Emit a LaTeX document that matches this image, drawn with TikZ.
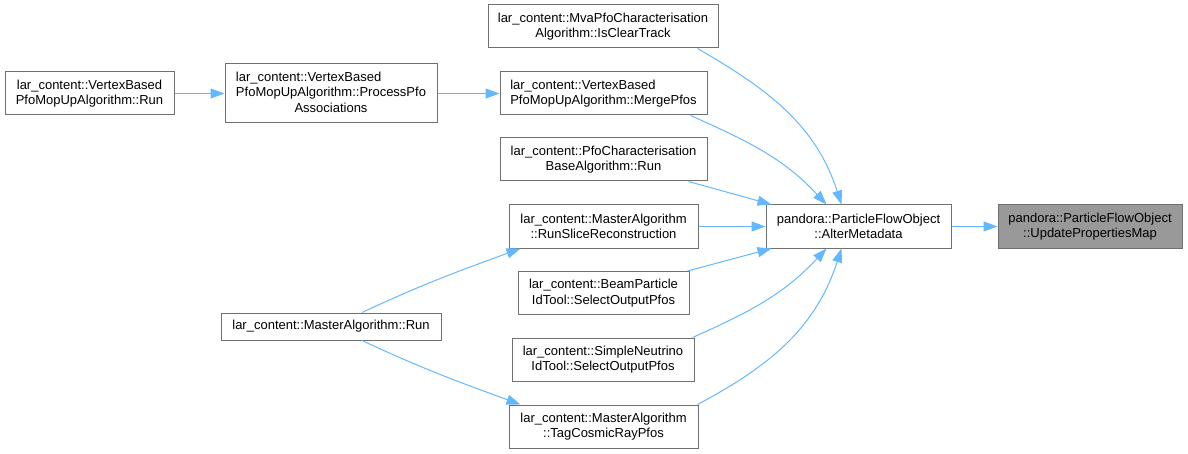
\documentclass[tikz,border=0pt]{standalone}
\usepackage{fontspec}
\setmainfont{Liberation Sans}
\usetikzlibrary{arrows.meta,positioning}
\definecolor{edgeblue}{HTML}{63B8FF}
\definecolor{boxgray}{HTML}{707070}
\definecolor{hlgray}{HTML}{999999}
\tikzset{
  fn/.style={draw=boxgray,line width=1pt,fill=white,align=center,font=\fontsize{13}{15.5}\selectfont,inner sep=0pt,minimum height=43pt},
  hl/.style={fn,fill=hlgray},
  arr/.style={-{Triangle[length=14pt,width=10pt]},draw=edgeblue,line width=1pt},
}

\begin{document}
\begin{tikzpicture}[x=1pt,y=1pt]
  \useasboundingbox (0,0) rectangle (1188,453);
  \node[hl,minimum width=184pt] (upd) at (1090,226.5) {pandora::ParticleFlowObject\\::UpdatePropertiesMap};
  \node[fn,minimum width=185pt] (alter) at (858.5,226.5) {pandora::ParticleFlowObject\\::AlterMetadata};
  % callers of AlterMetadata
  \node[fn,minimum width=230pt] (clear) at (603,426.5) {lar\_content::MvaPfoCharacterisation\\Algorithm::IsClearTrack};
  \node[fn,minimum width=207pt,align=left] (merge) at (603.5,359.5) {lar\_content::VertexBased\\PfoMopUpAlgorithm::MergePfos};
  \node[fn,minimum width=207pt] (pcrun) at (603.5,293.5) {lar\_content::PfoCharacterisation\\BaseAlgorithm::Run};
  \node[fn,minimum width=189pt] (slice) at (603.5,226.5) {lar\_content::MasterAlgorithm\\::RunSliceReconstruction};
  \node[fn,minimum width=171pt] (beam) at (603.5,160) {lar\_content::BeamParticle\\IdTool::SelectOutputPfos};
  \node[fn,minimum width=182pt] (simple) at (603,93.5) {lar\_content::SimpleNeutrino\\IdTool::SelectOutputPfos};
  \node[fn,minimum width=189pt] (tag) at (603.5,26.5) {lar\_content::MasterAlgorithm\\::TagCosmicRayPfos};
  % further up the call chain
  \node[fn,minimum width=212pt,minimum height=59pt] (assoc) at (331,359.5) {\begin{tabular}{@{}l@{}}lar\_content::VertexBased\\PfoMopUpAlgorithm::ProcessPfo\\\multicolumn{1}{@{}c@{}}{Associations}\end{tabular}};
  \node[fn,minimum width=169pt] (vbrun) at (89.5,359.5) {lar\_content::VertexBased\\PfoMopUpAlgorithm::Run};
  \node[fn,minimum width=220pt,minimum height=27pt] (mrun) at (331,126.5) {lar\_content::MasterAlgorithm::Run};
  \draw[arr] (alter) -- (upd);
  \draw[arr] (slice) -- (alter);
  \draw[arr] (vbrun) -- (assoc);
  \draw[arr] (assoc) -- (merge);
  \draw[arr] ([xshift=-19pt]pcrun.south east) -- ([xshift=6pt]alter.north west);
  \draw[arr] ([xshift=-2pt]beam.north east) -- ([xshift=6pt]alter.south west);
  \draw[arr] ([xshift=-21pt]clear.south east) to[out=-30,in=108] ([xshift=76pt]alter.north west);
  \draw[arr] ([xshift=-17pt]merge.south east) to[out=-24,in=133] ([xshift=61pt]alter.north west);
  \draw[arr] ([xshift=-2pt]simple.north east) to[out=24,in=227] ([xshift=61pt]alter.south west);
  \draw[arr] ([xshift=-1pt]tag.north east) to[out=28,in=252] ([xshift=76pt]alter.south west);
  \draw[arr] ([xshift=31pt]mrun.north) to[out=25,in=200] ([xshift=12pt]slice.south west);
  \draw[arr] ([xshift=31pt]mrun.south) to[out=-25,in=160] ([xshift=12pt]tag.north west);
\end{tikzpicture}
\end{document}
